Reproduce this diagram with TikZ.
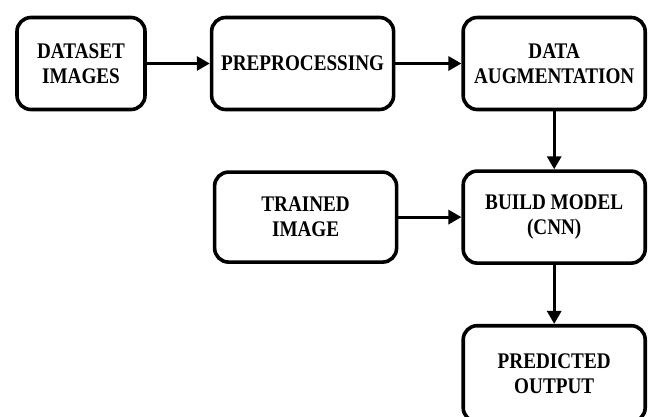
\documentclass[tikz,border=0pt]{standalone}
\usepackage{fontspec}
\setmainfont{Liberation Serif}[FakeStretch=0.86]
\usetikzlibrary{arrows.meta,positioning}
\tikzset{
  blk/.style={draw=black,line width=3.6pt,rounded corners=14pt,fill=white,align=center,
    minimum height=92pt,inner sep=2pt,font=\fontsize{22.3}{25}\selectfont\bfseries},
  sblk/.style={blk,minimum width=128pt},
  wblk/.style={blk,minimum width=182pt},
  ar/.style={-{Triangle[length=13pt,width=14pt]},line width=3pt,draw=black},
}
\begin{document}
\begin{tikzpicture}
\useasboundingbox (0,0) rectangle (651pt,-416pt);
% top row
\node[sblk] (data) at (81pt,-63.5pt) {DATASET\\IMAGES};
\node[wblk,right=63pt of data] (prep) {PREPROCESSING};
\node[wblk,right=66pt of prep] (aug) {DATA\\AUGMENTATION};
% model row
\node[wblk,below=58pt of aug] (build) {BUILD MODEL\\(CNN)};
\node[wblk,left=63pt of build,minimum height=90pt] (trained) {TRAINED\\IMAGE};
% output (cut by the page edge)
\node[wblk,below=59pt of build,minimum height=96pt] (pred) {PREDICTED\\OUTPUT};
\draw[ar] (data) -- (prep);
\draw[ar] (prep) -- (aug);
\draw[ar] (aug) -- (build);
\draw[ar] (trained) -- (build);
\draw[ar] (build) -- (pred);
\end{tikzpicture}
\end{document}
